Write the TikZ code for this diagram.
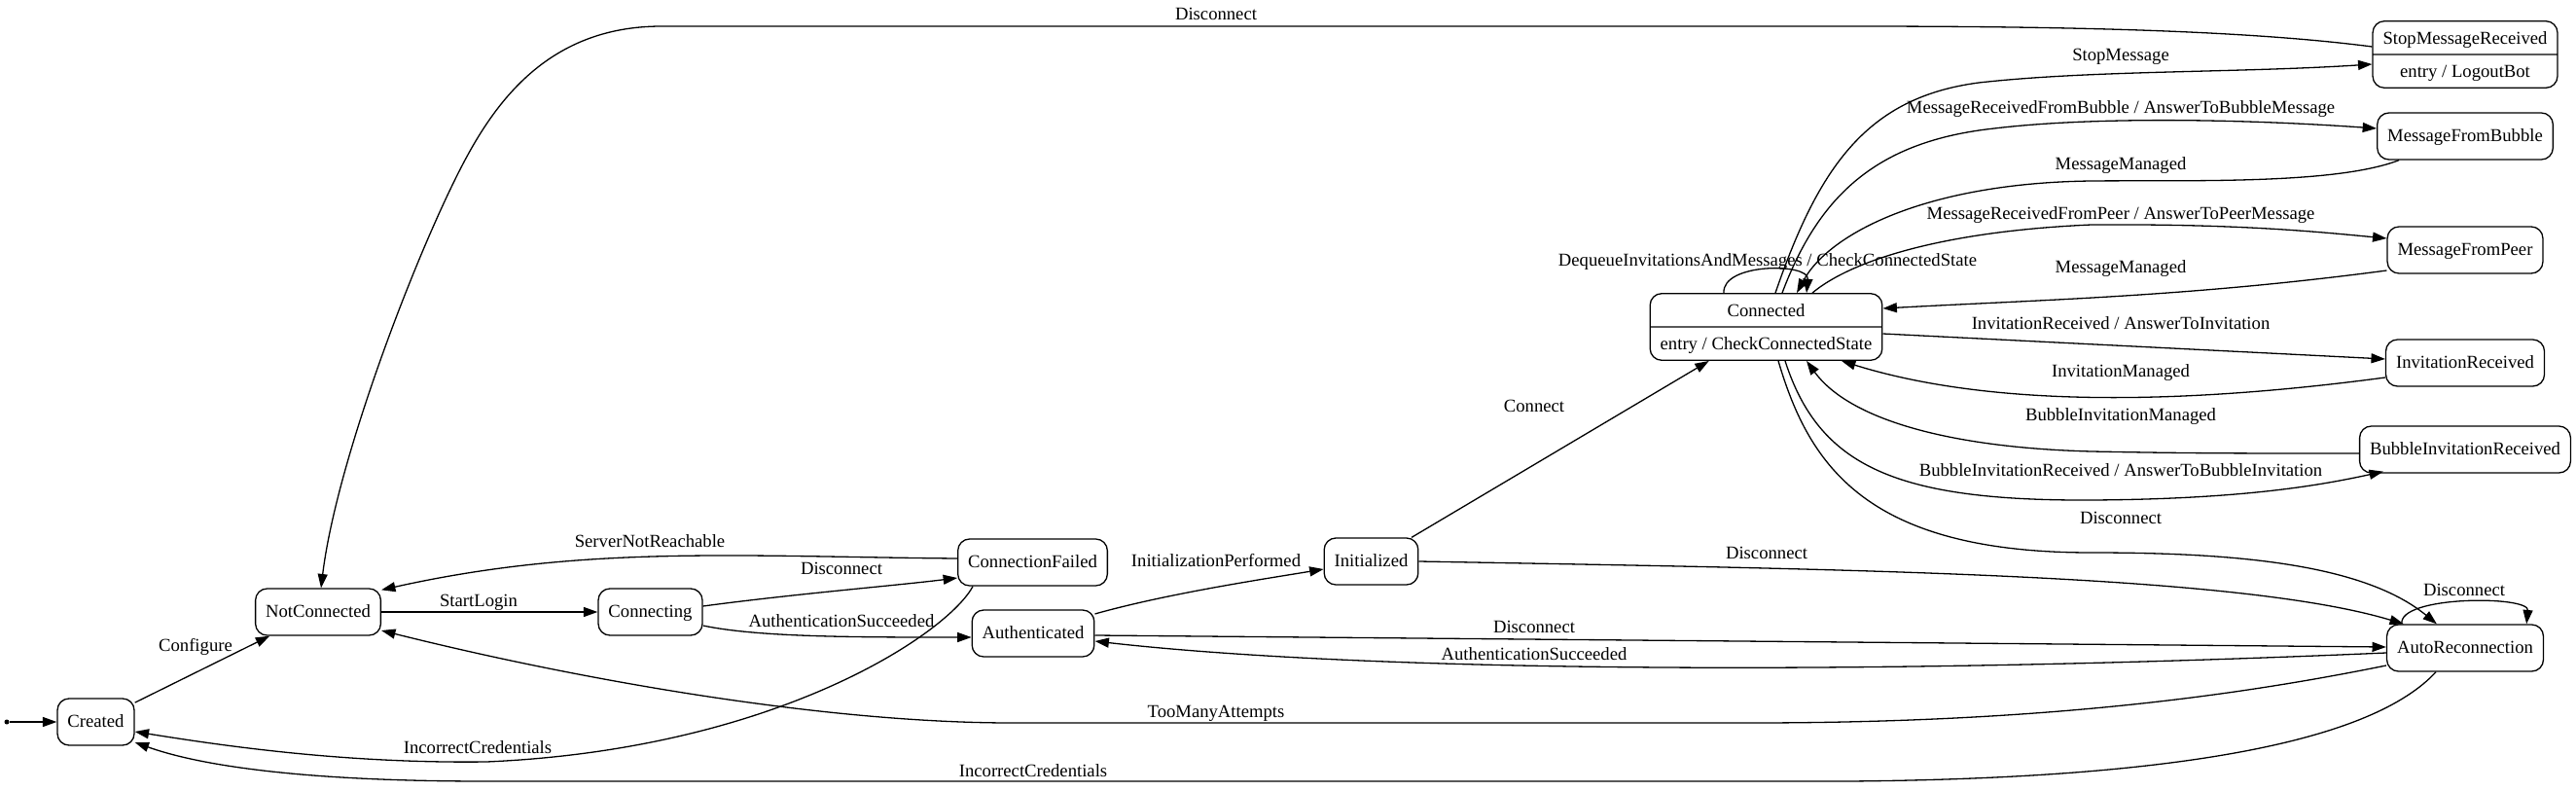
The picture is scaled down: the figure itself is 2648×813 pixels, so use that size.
\documentclass[tikz,border=0pt]{standalone}
\usepackage{fontspec}
\setmainfont{Liberation Serif}
\usetikzlibrary{arrows.meta,shapes.multipart}
\newcommand{\splitstrut}{\rule[-5pt]{0pt}{16.5pt}}

\begin{document}
\begin{tikzpicture}[x=0.5pt,y=-0.5pt,line width=0.65pt,
			font=\fontsize{9.33pt}{11pt}\selectfont,
			statebox/.style={draw,rounded corners=6pt,minimum height=24pt,inner xsep=5.25pt,inner ysep=0pt,text height=6.6pt,text depth=1.6pt},
			splitbox/.style={draw,rounded corners=6pt,rectangle split,rectangle split parts=2,inner xsep=5.25pt,inner ysep=0pt},
			trans/.style={-{Triangle[length=7.2pt,width=5pt]}},
			lbl/.style={anchor=base,inner sep=0pt}]
			\useasboundingbox (0,0) rectangle (2648,813);

			\node[circle,fill,inner sep=0pt,minimum size=2.5pt] (start) at (7,742) {};
			\node[statebox] (cre) at (98.5,742) {Created};
			\node[statebox] (nc) at (327,629) {NotConnected};
			\node[statebox] (cng) at (668.5,629) {Connecting};
			\node[statebox] (cf) at (1061.5,578) {ConnectionFailed};
			\node[statebox] (auth) at (1062,651) {Authenticated};
			\node[statebox] (ini) at (1409.5,577) {Initialized};
			\node[splitbox] (con) at (1815.5,336) {\splitstrut Connected\nodepart{two}\splitstrut entry / CheckConnectedState};
			\node[splitbox] (smr) at (2534,56) {\splitstrut StopMessageReceived\nodepart{two}\splitstrut entry / LogoutBot};
			\foreach \n/\y/\t in {mfb/140/MessageFromBubble,mfp/257/MessageFromPeer,ir/373/InvitationReceived,bir/462/BubbleInvitationReceived,ar/666/AutoReconnection} {
				\node[statebox] (\n) at (2534,\y) {\t};
			}

			\draw[trans] (start) -- (cre);
			\draw[trans] (cre) -- (nc);
			\draw[trans] (nc) -- (cng);
			\draw[trans] ([shift={(0,-6)}]cng.east) .. controls (820,610) and (920,602) .. ([shift={(0,16)}]cf.west);
			\draw[trans] ([shift={(0,14)}]cng.east) .. controls (780,655) and (880,655) .. ([shift={(0,4)}]auth.west);
			\draw[trans] ([shift={(0,-4)}]cf.west) .. controls (760,572) and (600,560) .. ([shift={(0,2)}]nc.north east);
			\draw[trans] ([shift={(16,0)}]cf.south west) .. controls (975,650) and (800,770) .. (500,783) .. controls (350,785) and (220,765) .. ([shift={(0,10)}]cre.east);
			\draw[trans] ([shift={(-30,0)}]ar.south) .. controls (2440,760) and (2250,800) .. (1900,803) -- (500,803) .. controls (300,803) and (200,785) .. ([shift={(0,21)}]cre.east);
			\draw[trans] ([shift={(0,18)}]ar.west) .. controls (2300,715) and (2100,743) .. (1800,743) -- (1040,743) .. controls (850,743) and (600,700) .. ([shift={(0,19)}]nc.east);
			\draw[trans] ([shift={(0,-20)}]auth.east) .. controls (1200,610) and (1300,595) .. ([shift={(0,8)}]ini.west);
			\draw[trans] (ini) -- (con);
			\draw[trans] (ini.east) .. controls (1900,585) and (2300,590) .. ([shift={(18,0)}]ar.north west);
			\draw[trans] ([shift={(0,2)}]auth.east) -- ([shift={(0,-1)}]ar.west);
			\draw[trans] ([shift={(0,5)}]ar.west) .. controls (1900,695) and (1400,690) .. ([shift={(0,8)}]auth.east);
			\draw[trans] ([shift={(16,0)}]ar.north west) .. controls (2465,612) and (2600,612) .. ([shift={(-18,0)}]ar.north east);
			\draw[trans] ([shift={(12.5,0)}]con.south) .. controls (1860,480) and (1920,568) .. (2150,568) .. controls (2300,568) and (2430,580) .. ([shift={(52,0)}]ar.north west);
			\draw[trans] ([shift={(-43.5,0)}]con.north) .. controls (1770,270) and (1860,270) .. ([shift={(41.5,0)}]con.north);
			\draw[trans] ([shift={(9.5,0)}]con.north) .. controls (1870,170) and (1920,100) .. (2034,85) .. controls (2150,72) and (2300,75) .. ([shift={(0,10)}]smr.west);
			\draw[trans] ([shift={(16.5,0)}]con.north) .. controls (1870,200) and (1930,145) .. (2050,132) .. controls (2150,120) and (2300,122) .. ([shift={(0,-8)}]mfb.west);
			\draw[trans] ([shift={(-68,0)}]mfb.south) .. controls (2400,190) and (2250,185) .. (2150,186) .. controls (1980,188) and (1880,240) .. ([shift={(31.5,0)}]con.north);
			\draw[trans] ([shift={(47.5,0)}]con.north) .. controls (1900,270) and (1990,238) .. (2150,231) .. controls (2300,230) and (2380,238) .. ([shift={(0,-12)}]mfp.west);
			\draw[trans] ([shift={(0,21)}]mfp.west) .. controls (2250,305) and (2100,308) .. ([shift={(0,-19)}]con.east);
			\draw[trans] ([shift={(0,7)}]con.east) -- ([shift={(0,-4)}]ir.west);
			\draw[trans] ([shift={(0,15)}]ir.west) .. controls (2250,415) and (2050,420) .. ([shift={(77.5,0)}]con.south);
			\draw[trans] ([shift={(0,4)}]bir.west) .. controls (2300,466) and (2250,466) .. (2150,464) .. controls (2000,460) and (1900,430) .. ([shift={(41.5,0)}]con.south);
			\draw[trans] ([shift={(19.5,0)}]con.south) .. controls (1870,480) and (1950,515) .. (2150,514) .. controls (2300,513) and (2380,500) .. ([shift={(25,-2)}]bir.south west);
			\draw[trans] ([shift={(0,-8)}]smr.west) .. controls (2300,30) and (2100,27) .. (1900,27) -- (680,27) .. controls (560,27) and (505,110) .. (470,180) .. controls (420,280) and (345,480) .. ([shift={(3,0)}]nc.north);

			\node[lbl] (l1) at (201,669) {Configure};
			\node[lbl] (l2) at (492,623) {StartLogin};
			\node[lbl] (l3) at (668,562) {ServerNotReachable};
			\node[lbl] (l4) at (865,590) {Disconnect};
			\node[lbl] (l5) at (865,644) {AuthenticationSucceeded};
			\node[lbl] (l6) at (491,774) {IncorrectCredentials};
			\node[lbl] (l7) at (1062,798) {IncorrectCredentials};
			\node[lbl] (l8) at (1250,737) {TooManyAttempts};
			\node[lbl] (l9) at (1250,582) {InitializationPerformed};
			\node[lbl] (l10) at (1577,423) {Connect};
			\node[lbl] (l11) at (1816,574) {Disconnect};
			\node[lbl] (l12) at (1577,650) {Disconnect};
			\node[lbl] (l13) at (1577,678) {AuthenticationSucceeded};
			\node[lbl] (l14) at (2180,538) {Disconnect};
			\node[lbl] (l15) at (2533,612) {Disconnect};
			\node[lbl] (l16) at (1250,21) {Disconnect};
			\node[lbl] (l17) at (2180,63) {StopMessage};
			\node[lbl] (l18) at (2180,117) {MessageReceivedFromBubble / AnswerToBubbleMessage};
			\node[lbl] (l19) at (2180,174) {MessageManaged};
			\node[lbl] (l20) at (2180,225) {MessageReceivedFromPeer / AnswerToPeerMessage};
			\node[lbl] (l21) at (1817,273) {DequeueInvitationsAndMessages / CheckConnectedState};
			\node[lbl] (l22) at (2180,280) {MessageManaged};
			\node[lbl] (l23) at (2180,338) {InvitationReceived / AnswerToInvitation};
			\node[lbl] (l24) at (2180,387) {InvitationManaged};
			\node[lbl] (l25) at (2180,432) {BubbleInvitationManaged};
			\node[lbl] (l26) at (2180,489) {BubbleInvitationReceived / AnswerToBubbleInvitation};
		\end{tikzpicture}
\end{document}
